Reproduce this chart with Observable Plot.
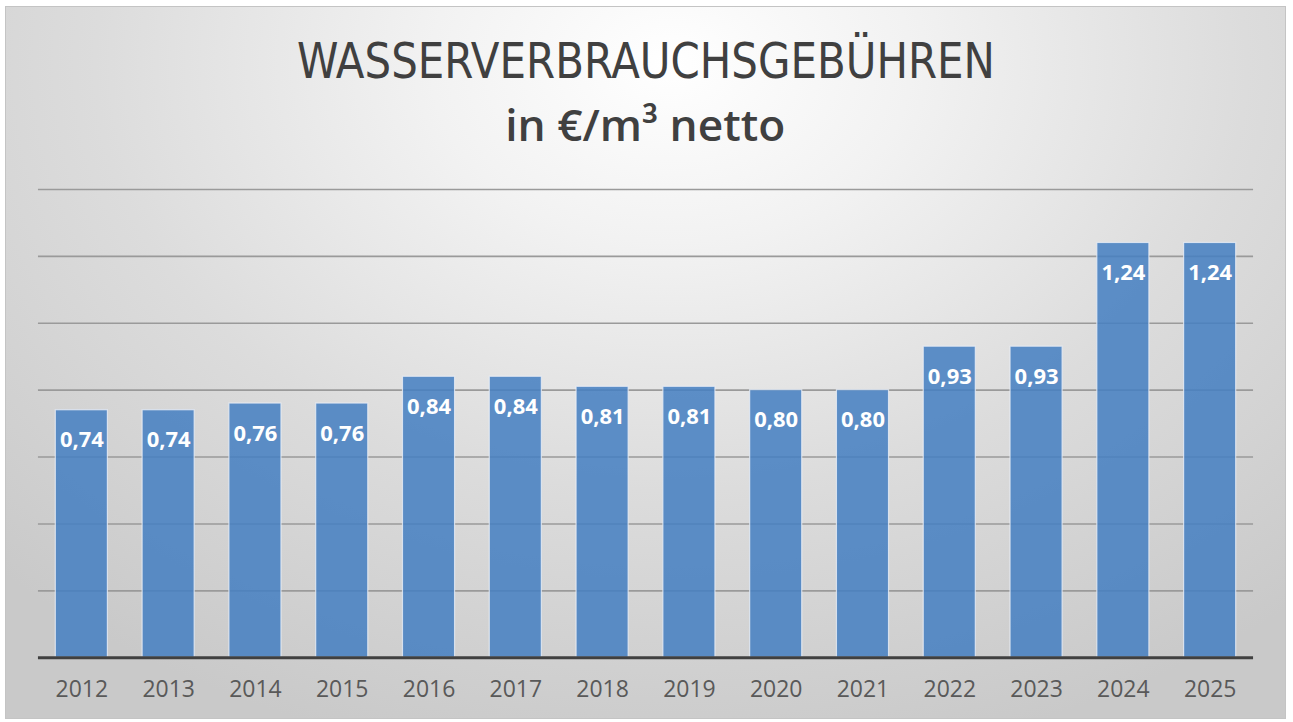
<!DOCTYPE html>
<html>
<head>
<meta charset="utf-8">
<script src="https://cdn.jsdelivr.net/npm/d3@7"></script>
<script src="https://cdn.jsdelivr.net/npm/@observablehq/plot@0.6"></script>
<style>
  html, body { margin: 0; padding: 0; background: #ffffff; }
  #frame {
    position: absolute; left: 5px; top: 6px; width: 1281px; height: 713px;
    border: 1px solid #c4c4c4; box-sizing: border-box; overflow: hidden;
    background: radial-gradient(ellipse 75% 100% at 52% 8%, #ffffff 0%, #f2f2f2 25%, #dcdcdc 60%, #c9c9c9 100%);
  }
  .ttl { position: absolute; left: 0; width: 100%; text-align: center; color: #404040; white-space: nowrap; }
  .ttl span { display: inline-block; transform-origin: 50% 50%; }
  #t1 { top: 30px; font: 400 49px "DejaVu Sans Condensed", "Liberation Sans Narrow", "Open Sans", sans-serif; line-height: 1; }
  #t2 { top: 95px; font: 600 44px "Open Sans", sans-serif; line-height: 1; }
  #chart { position: absolute; left: 0; top: 164px; }
</style>
</head>
<body>
<div id="frame">
  <div class="ttl" id="t1"><span>WASSERVERBRAUCHSGEBÜHREN</span></div>
  <div class="ttl" id="t2"><span>in €/m³ netto</span></div>
  <div id="chart"></div>
</div>
<script>
const years = ["2012","2013","2014","2015","2016","2017","2018","2019","2020","2021","2022","2023","2024","2025"];
const fees = [0.74,0.74,0.76,0.76,0.84,0.84,0.81,0.81,0.80,0.80,0.93,0.93,1.24,1.24];
const gridTicks = [0.2,0.4,0.6,0.8,1.0,1.2,1.4];

const data = years.map((y, i) => ({year: y, fee: fees[i]}));
const fmt = v => d3.format(".2f")(v).replace(".", ",");

const chart = Plot.plot({
  width: 1281,
  height: 549,
  marginLeft: 32,
  marginRight: 32,
  marginTop: 18,
  marginBottom: 62,
  style: { background: "transparent", fontFamily: "'Open Sans', sans-serif" },
  x: { domain: years, paddingInner: 0.4, paddingOuter: 0.2, round: false, label: null },
  y: { domain: [0, 1.4], axis: null },
  marks: [
    Plot.ruleY(gridTicks, { stroke: "#9a9a9a", strokeWidth: 1.6 }),
    Plot.barY(data, { x: "year", y: "fee", fill: "rgb(69,127,193)", fillOpacity: 0.86, stroke: "#e8eef6", strokeOpacity: 0.8, strokeWidth: 1.2 }),
    Plot.ruleY([0], { stroke: "#404040", strokeWidth: 3 }),
    Plot.text(data, { x: "year", y: "fee", text: d => fmt(d.fee), dy: 30, fill: "#ffffff", fontSize: 22, fontWeight: "bold" }),
    Plot.axisX({ tickSize: 0, tickPadding: 23, fontSize: 23, color: "#595959", label: null })
  ]
});
document.getElementById("chart").appendChild(chart);

function fit(id, w) {
  const s = document.querySelector("#" + id + " span");
  const cur = s.getBoundingClientRect().width;
  s.style.transform = "scaleX(" + (w / cur) + ")";
}
fit("t1", 698);
fit("t2", 280);
</script>
</body>
</html>
